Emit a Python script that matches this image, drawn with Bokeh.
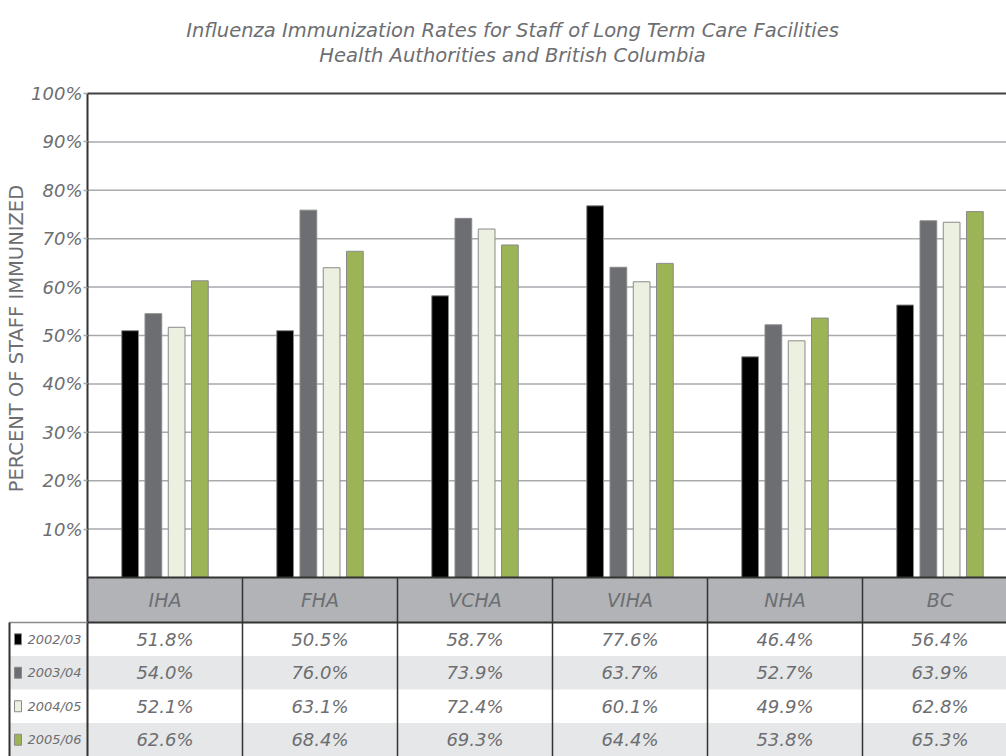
import numpy as np
from bokeh.plotting import figure
from bokeh.models import Range1d, FixedTicker, PrintfTickFormatter, ColumnDataSource
from bokeh.core.properties import value
from bokeh.embed import file_html
from bokeh.resources import INLINE

# ---------------- data ----------------
title_lines = ["Influenza Immunization Rates for Staff of Long Term Care Facilities",
               "Health Authorities and British Columbia"]
categories = ["IHA", "FHA", "VCHA", "VIHA", "NHA", "BC"]
years = ["2002/03", "2003/04", "2004/05", "2005/06"]
colors = ["#000000", "#6d6e71", "#ecf0e0", "#9cb356"]

# bar heights as drawn in the chart
bars_2002_03 = [51.0, 51.0, 58.2, 76.8, 45.6, 56.3]
bars_2003_04 = [54.5, 75.9, 74.2, 64.1, 52.2, 73.7]
bars_2004_05 = [51.7, 64.0, 72.0, 61.1, 48.9, 73.4]
bars_2005_06 = [61.3, 67.4, 68.7, 64.9, 53.6, 75.6]

# values printed in the table
table_2002_03 = ["51.8%", "50.5%", "58.7%", "77.6%", "46.4%", "56.4%"]
table_2003_04 = ["54.0%", "76.0%", "73.9%", "63.7%", "52.7%", "63.9%"]
table_2004_05 = ["52.1%", "63.1%", "72.4%", "60.1%", "49.9%", "62.8%"]
table_2005_06 = ["62.6%", "68.4%", "69.3%", "64.4%", "53.8%", "65.3%"]

y_ticks = [10, 20, 30, 40, 50, 60, 70, 80, 90, 100]
y_label = "PERCENT  OF STAFF IMMUNIZED"

series = [bars_2002_03, bars_2003_04, bars_2004_05, bars_2005_06]
table_rows = [table_2002_03, table_2003_04, table_2004_05, table_2005_06]

# ---------------- layout constants (pixels) ----------------
W, H = 1006, 756
UNIT = 155.0          # px per category column
PX = 4.84             # px per percent
AXIS_X = 87           # px from left edge to the value axis
ZERO_Y = 577          # px from top to 0 %
TOP_Y = 93            # px from top to 100 %
HEADER_PX = 45
ROW_PX = (H - ZERO_Y - HEADER_PX) / 4.0

X_START = -AXIS_X / UNIT
X_END = (W - AXIS_X) / UNIT
Y_START = -(H - ZERO_Y) / PX
Y_END = 100 + TOP_Y / PX

FONT = "DejaVu Sans"
TXT = "#6d6e71"
DARK = "#333333"
GRID = "#a7a9ac"

p = figure(width=W, height=H, x_range=Range1d(X_START, X_END), y_range=Range1d(Y_START, Y_END),
           x_axis_location=None, min_border=0,
           output_backend="svg", toolbar_location=None)
p.outline_line_color = None
p.grid.visible = False

# title (two lines)
title_x = (512 - AXIS_X) / UNIT
p.text(x=[title_x, title_x], y=[100 + (TOP_Y - 29.5) / PX, 100 + (TOP_Y - 55) / PX],
       text=title_lines, text_align="center", text_baseline="alphabetic",
       text_font=value(FONT), text_font_style="italic", text_font_size="19.5px",
       text_color=TXT)

# value axis, placed at x = 0 (left edge of the first category)
ax = p.yaxis[0]
ax.fixed_location = 0
ax.bounds = (0, 100)
ax.ticker = FixedTicker(ticks=y_ticks)
ax.formatter = PrintfTickFormatter(format="%d%%")
ax.major_label_text_font = FONT
ax.major_label_text_font_style = "italic"
ax.major_label_text_font_size = "18px"
ax.major_label_text_color = TXT
ax.major_label_standoff = 1
ax.major_tick_in = 0
ax.major_tick_out = 4
ax.major_tick_line_color = GRID
ax.major_tick_line_width = 1.5
ax.minor_tick_line_color = None
ax.axis_line_color = DARK
ax.axis_line_width = 2
ax.axis_label = y_label
ax.axis_label_text_font = FONT
ax.axis_label_text_font_style = "normal"
ax.axis_label_text_font_size = "19.5px"
ax.axis_label_text_color = TXT
ax.axis_label_standoff = 0

# horizontal grid lines at tick positions, across the category area only
p.segment(x0=0, x1=X_END, y0=y_ticks[:-1], y1=y_ticks[:-1], line_color=GRID, line_width=1.5)
p.segment(x0=0, x1=X_END, y0=y_ticks[-1:], y1=y_ticks[-1:], line_color="#404040", line_width=2)

# bars
step = 0.15
bw = 0.108
base = np.arange(len(categories)) + 0.5
for j, (vals, col) in enumerate(zip(series, colors)):
    src = ColumnDataSource(dict(x=base + (j - 1.5) * step, top=vals))
    p.vbar(x="x", top="top", width=bw, bottom=0, source=src,
           fill_color=col, line_color="#8a8a8a", line_width=1)

# ---------------- data table ----------------
LEG_L = X_START + 9.0 / UNIT
hdr_bot = -HEADER_PX / PX
row_h = ROW_PX / PX
row_top = [hdr_bot - i * row_h for i in range(4)]
row_ctr = [rt - row_h / 2 for rt in row_top]

p.quad(left=[LEG_L, LEG_L], right=[X_END, X_END],
       top=[row_top[1], row_top[3]], bottom=[row_top[1] - row_h, row_top[3] - row_h],
       fill_color="#e6e7e8", line_color=None)
p.quad(left=[0], right=[X_END], top=[0], bottom=[hdr_bot],
       fill_color="#b1b3b6", line_color=None)

p.segment(x0=[1, 2, 3, 4, 5], x1=[1, 2, 3, 4, 5], y0=[Y_START] * 5, y1=[0] * 5,
          line_color=DARK, line_width=1.5)
p.segment(x0=[0], x1=[0], y0=[Y_START], y1=[0], line_color=DARK, line_width=2)
p.segment(x0=[0, 0], x1=[X_END, X_END], y0=[0, hdr_bot], y1=[0, hdr_bot],
          line_color=DARK, line_width=2)
p.segment(x0=[LEG_L], x1=[0], y0=[hdr_bot], y1=[hdr_bot], line_color="#8a8a8a", line_width=1.5)
p.segment(x0=[LEG_L], x1=[LEG_L], y0=[Y_START], y1=[hdr_bot], line_color=DARK, line_width=2)

p.text(x=list(base), y=[hdr_bot / 2] * len(categories), text=categories,
       text_align="center", text_baseline="middle", text_font=value(FONT),
       text_font_style="italic", text_font_size="19px", text_color=TXT)

for i, row in enumerate(table_rows):
    p.text(x=list(base), y=[row_ctr[i]] * len(row), text=row,
           text_align="center", text_baseline="middle", text_font=value(FONT),
           text_font_style="italic", text_font_size="18px", text_color=TXT)

p.rect(x=[LEG_L + 8.5 / UNIT] * 4, y=row_ctr, width=7, height=11,
       width_units="screen", height_units="screen",
       fill_color=colors, line_color="#8a8a8a", line_width=1)
p.text(x=[LEG_L + 18 / UNIT] * 4, y=row_ctr, text=years, text_align="left",
       text_baseline="middle", text_font=value(FONT), text_font_style="italic",
       text_font_size="13px", text_color=TXT)

open("out.html", "w").write(file_html(p, INLINE))
